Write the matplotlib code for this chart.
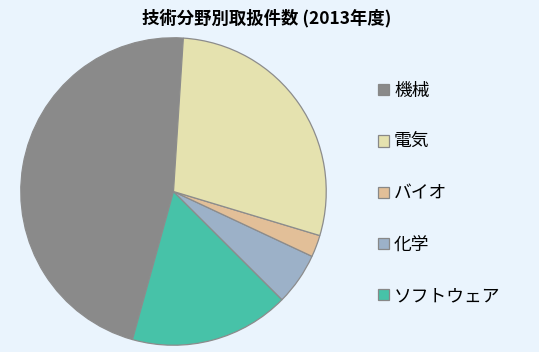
import matplotlib.pyplot as plt
from matplotlib.patches import Patch

plt.rcParams['font.family'] = ['Noto Sans CJK JP', 'DejaVu Sans']

labels = ['機械', '電気', 'バイオ', '化学', 'ソフトウェア']
shares = [46.7, 28.6, 2.3, 5.5, 16.9]
colors = ['#8a8a8a', '#e5e2af', '#e2bf98', '#9cb1c8', '#47c2a8']
# drawing order goes counterclockwise: 機械, ソフトウェア, 化学, バイオ, 電気
order = [0, 4, 3, 2, 1]

bg = '#eaf4fd'
fig = plt.figure(figsize=(5.39, 3.52), dpi=100, facecolor=bg)
ax = fig.add_axes([20 / 539, 1 - 346 / 352, 307 / 539, 309 / 352])
ax.set_facecolor(bg)

ax.pie([shares[i] for i in order], colors=[colors[i] for i in order],
       startangle=86.3, counterclock=True, radius=1,
       wedgeprops=dict(edgecolor='#8c8c8c', linewidth=0.9))
ax.set_xlim(-1.005, 1.005)
ax.set_ylim(-1.005, 1.005)
ax.set_aspect('auto')

fig.text(267 / 539, 1 - 18 / 352, '技術分野別取扱件数 (2013年度)',
         ha='center', va='center', fontsize=12.5, fontweight='bold')

handles = [Patch(facecolor=c, edgecolor='#888888', linewidth=0.9) for c in colors]
leg = fig.legend(handles, labels, loc='upper left',
                 bbox_to_anchor=(371 / 539, 1 - 75 / 352),
                 frameon=False, fontsize=12.8, handlelength=0.6, handleheight=0.6,
                 handletextpad=0.3, labelspacing=1.87, borderaxespad=0)

fig.savefig('out.png', dpi=100, facecolor=bg)
